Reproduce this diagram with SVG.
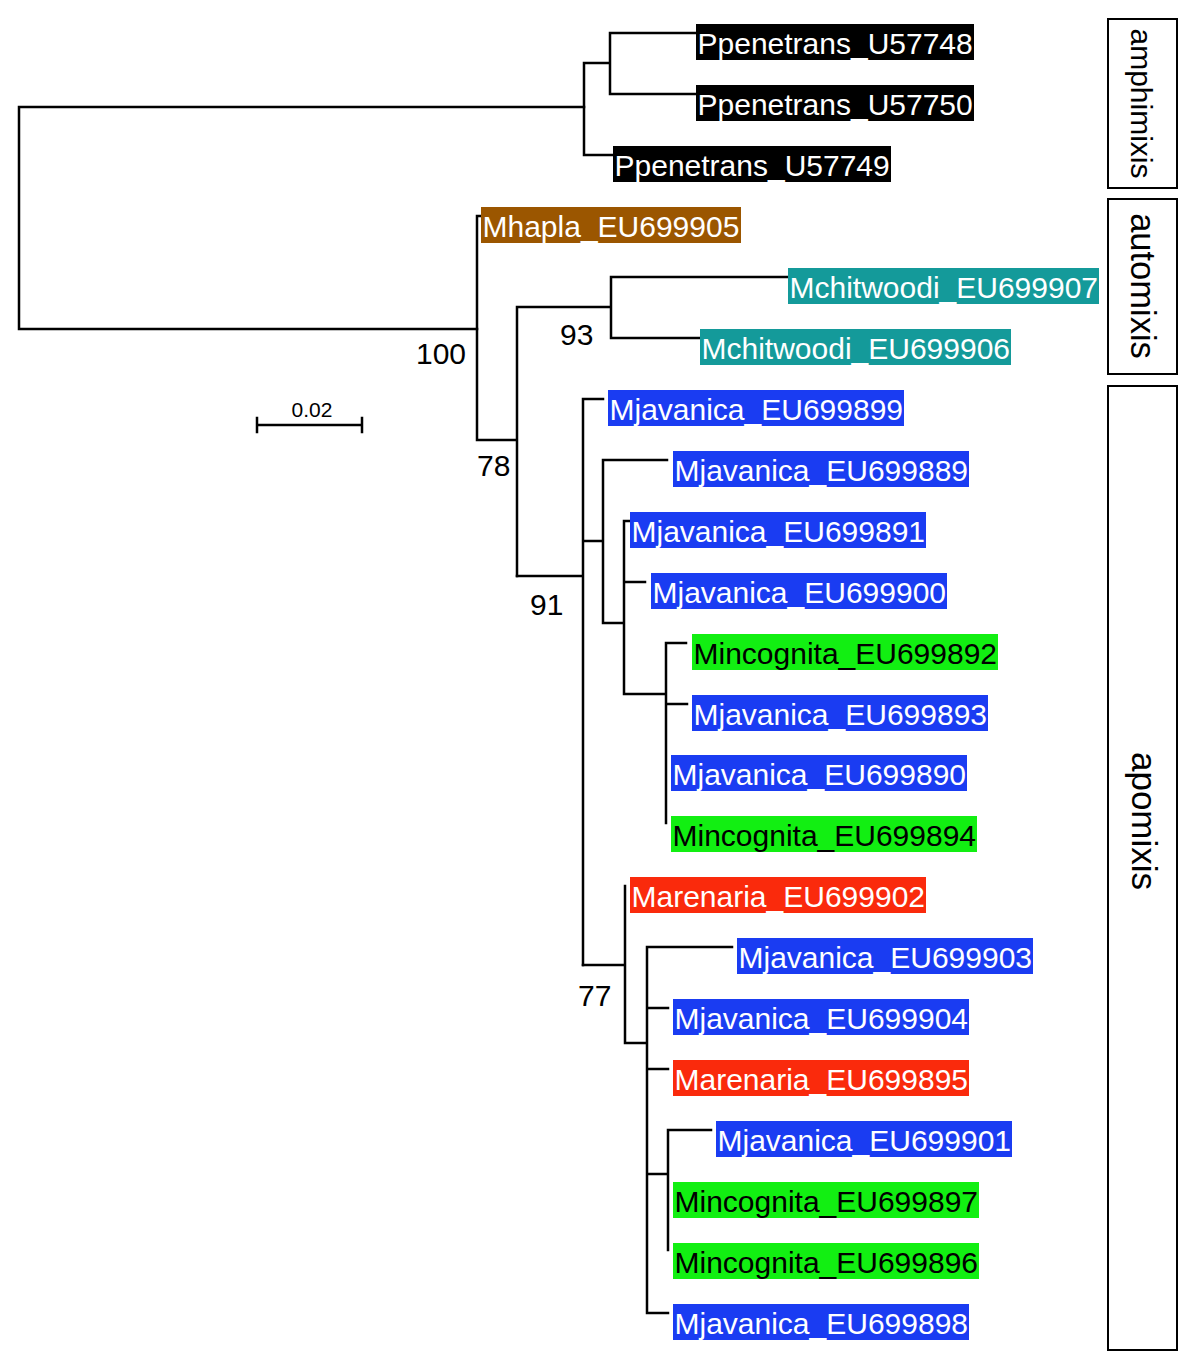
<svg xmlns="http://www.w3.org/2000/svg" width="1200" height="1364" viewBox="0 0 1200 1364">
<style>
.e{fill:none;stroke:#000;stroke-width:2.5;stroke-linecap:square}
.t{font-family:"Liberation Sans",Arial,sans-serif;font-size:30px}
.w{fill:#fff}
.k{fill:#000}
.bk{fill:#000}.br{fill:#9b5600}.tl{fill:#149a9a}.bl{fill:#1a3cf2}.gr{fill:#12ef12}.rd{fill:#fa2a0c}
.n{font-family:"Liberation Sans",Arial,sans-serif;font-size:30px;fill:#000}
.grp{fill:none;stroke:#000;stroke-width:2}
.g{font-family:"Liberation Sans",Arial,sans-serif;fill:#000}
</style>
<rect width="1200" height="1364" fill="#fff"/>
<g id="connectors">
<path class="e" d="M19 107V329M19 107H584M19 329H477"/>
<path class="e" d="M584 63V155M584 63H610M610 33V94M610 33H695M610 94H695M584 155H612"/>
<path class="e" d="M477 216V440M477 216H481M477 440H517M517 307V576M517 307H611M611 277V338M611 277H788M611 338H699"/>
<path class="e" d="M517 576H583M583 399V965M583 399H603M583 541H603M603 460V623M603 460H667M603 623H624M624 521V694M624 521H629M624 582H645M624 694H666M666 643V823M666 643H686M666 704H687"/>
<path class="e" d="M583 965H625M625 886V1043M625 1043H647M647 947V1313M647 947H732M647 1008H668M647 1069H668M647 1174H668M647 1313H668M668 1130V1250M668 1130H711"/>
</g>
<g id="scale">
<path class="e" d="M257 425H362M257 418V432M362 418V432"/>
<text class="g" x="312" y="417" text-anchor="middle" font-size="21">0.02</text>
</g>
<g id="support">
<text class="n" x="416" y="364">100</text>
<text class="n" x="560" y="345">93</text>
<text class="n" x="477" y="476">78</text>
<text class="n" x="530" y="615">91</text>
<text class="n" x="578" y="1006">77</text>
</g>
<g id="leaf-Ppenetrans_U57748"><rect class="bk" x="696" y="24" width="278" height="36"/><text class="t w" x="697.5" y="54">Ppenetrans_U57748</text></g>
<g id="leaf-Ppenetrans_U57750"><rect class="bk" x="696" y="85" width="278" height="36"/><text class="t w" x="697.5" y="115">Ppenetrans_U57750</text></g>
<g id="leaf-Ppenetrans_U57749"><rect class="bk" x="613" y="146" width="278" height="36"/><text class="t w" x="614.5" y="176">Ppenetrans_U57749</text></g>
<g id="leaf-Mhapla_EU699905"><rect class="br" x="481" y="207" width="260" height="36"/><text class="t w" x="482.5" y="237">Mhapla_EU699905</text></g>
<g id="leaf-Mchitwoodi_EU699907"><rect class="tl" x="788" y="268" width="311" height="36"/><text class="t w" x="789.5" y="298">Mchitwoodi_EU699907</text></g>
<g id="leaf-Mchitwoodi_EU699906"><rect class="tl" x="700" y="329" width="311" height="36"/><text class="t w" x="701.5" y="359">Mchitwoodi_EU699906</text></g>
<g id="leaf-Mjavanica_EU699899"><rect class="bl" x="608" y="390" width="296" height="36"/><text class="t w" x="609.5" y="420">Mjavanica_EU699899</text></g>
<g id="leaf-Mjavanica_EU699889"><rect class="bl" x="673" y="451" width="296" height="36"/><text class="t w" x="674.5" y="481">Mjavanica_EU699889</text></g>
<g id="leaf-Mjavanica_EU699891"><rect class="bl" x="630" y="512" width="296" height="36"/><text class="t w" x="631.5" y="542">Mjavanica_EU699891</text></g>
<g id="leaf-Mjavanica_EU699900"><rect class="bl" x="651" y="573" width="296" height="36"/><text class="t w" x="652.5" y="603">Mjavanica_EU699900</text></g>
<g id="leaf-Mincognita_EU699892"><rect class="gr" x="692" y="634" width="306" height="36"/><text class="t k" x="693.5" y="664">Mincognita_EU699892</text></g>
<g id="leaf-Mjavanica_EU699893"><rect class="bl" x="692" y="695" width="296" height="36"/><text class="t w" x="693.5" y="725">Mjavanica_EU699893</text></g>
<g id="leaf-Mjavanica_EU699890"><rect class="bl" x="671" y="755" width="296" height="36"/><text class="t w" x="672.5" y="785">Mjavanica_EU699890</text></g>
<g id="leaf-Mincognita_EU699894"><rect class="gr" x="671" y="816" width="306" height="36"/><text class="t k" x="672.5" y="846">Mincognita_EU699894</text></g>
<g id="leaf-Marenaria_EU699902"><rect class="rd" x="630" y="877" width="296" height="36"/><text class="t w" x="631.5" y="907">Marenaria_EU699902</text></g>
<g id="leaf-Mjavanica_EU699903"><rect class="bl" x="737" y="938" width="296" height="36"/><text class="t w" x="738.5" y="968">Mjavanica_EU699903</text></g>
<g id="leaf-Mjavanica_EU699904"><rect class="bl" x="673" y="999" width="296" height="36"/><text class="t w" x="674.5" y="1029">Mjavanica_EU699904</text></g>
<g id="leaf-Marenaria_EU699895"><rect class="rd" x="673" y="1060" width="296" height="36"/><text class="t w" x="674.5" y="1090">Marenaria_EU699895</text></g>
<g id="leaf-Mjavanica_EU699901"><rect class="bl" x="716" y="1121" width="296" height="36"/><text class="t w" x="717.5" y="1151">Mjavanica_EU699901</text></g>
<g id="leaf-Mincognita_EU699897"><rect class="gr" x="673" y="1182" width="306" height="36"/><text class="t k" x="674.5" y="1212">Mincognita_EU699897</text></g>
<g id="leaf-Mincognita_EU699896"><rect class="gr" x="673" y="1243" width="306" height="36"/><text class="t k" x="674.5" y="1273">Mincognita_EU699896</text></g>
<g id="leaf-Mjavanica_EU699898"><rect class="bl" x="673" y="1304" width="296" height="36"/><text class="t w" x="674.5" y="1334">Mjavanica_EU699898</text></g>
<g id="group-amphimixis"><rect class="grp" x="1108" y="19" width="69" height="169"/><text class="g" transform="translate(1131 103.5) rotate(90)" text-anchor="middle" font-size="30">amphimixis</text></g>
<g id="group-automixis"><rect class="grp" x="1108" y="199" width="69" height="175"/><text class="g" transform="translate(1130.5 286) rotate(90)" text-anchor="middle" font-size="34.5">automixis</text></g>
<g id="group-apomixis"><rect class="grp" x="1108" y="386" width="69" height="964"/><text class="g" transform="translate(1131.5 821) rotate(90)" text-anchor="middle" font-size="35">apomixis</text></g>
</svg>
